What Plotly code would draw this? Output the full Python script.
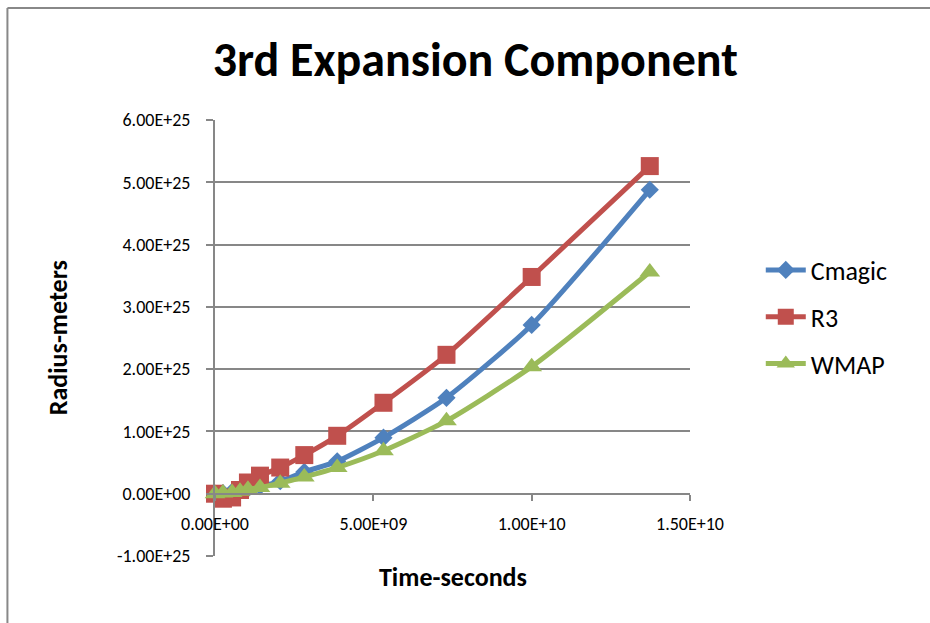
import plotly.graph_objects as go

# ---- data ----
time_s = [0.0, 0.25e9, 0.54e9, 0.79e9, 1.04e9, 1.42e9, 2.06e9, 2.82e9, 3.86e9, 5.32e9, 7.31e9, 1.0e10, 1.373e10]
cmagic = [0.0, 0.01e25, 0.03e25, 0.05e25, 0.08e25, 0.12e25, 0.2e25, 0.35e25, 0.52e25, 0.90e25, 1.54e25, 2.71e25, 4.88e25]
r3 = [0.0, -0.08e25, -0.06e25, 0.06e25, 0.18e25, 0.29e25, 0.42e25, 0.62e25, 0.93e25, 1.46e25, 2.23e25, 3.48e25, 5.26e25]
wmap = [0.0, 0.01e25, 0.02e25, 0.04e25, 0.07e25, 0.10e25, 0.17e25, 0.27e25, 0.42e25, 0.69e25, 1.17e25, 2.04e25, 3.56e25]

y_tickvals = [-1e25, 0, 1e25, 2e25, 3e25, 4e25, 5e25, 6e25]
y_ticktext = ["-1.00E+25", "0.00E+00", "1.00E+25", "2.00E+25", "3.00E+25", "4.00E+25", "5.00E+25", "6.00E+25"]
x_tickvals = [0, 5e9, 1e10, 1.5e10]
x_ticktext = ["0.00E+00", "5.00E+09", "1.00E+10", "1.50E+10"]

FONT = "Carlito, Calibri, Liberation Sans, Arial, sans-serif"
GRID = "#878787"

fig = go.Figure()
series = [
    ("Cmagic", cmagic, "#4F81BD", "diamond", 14),
    ("R3", r3, "#C0504D", "square", 18),
    ("WMAP", wmap, "#9BBB59", "triangle-up", 18),
]
for name, vals, color, sym, sz in series:
    fig.add_trace(go.Scatter(
        x=time_s, y=vals, name=name, mode="lines+markers",
        legendgroup=name,
        line=dict(color=color, width=5, shape="spline", smoothing=0.6),
        marker=dict(symbol=sym, size=sz, color=color),
        cliponaxis=False,
    ))

fig.update_layout(
    width=930, height=623,
    margin=dict(l=215, r=240, t=120, b=67),
    paper_bgcolor="white", plot_bgcolor="white",
    font=dict(family=FONT, color="#000000", size=18),
    title=dict(text="<b>3rd Expansion Component</b>", x=0.511, xref="container",
               y=0.905, yref="container", xanchor="center", yanchor="middle",
               font=dict(size=48, family=FONT, color="#000000")),
    showlegend=True,
    legend=dict(x=1.149, y=0.548, xanchor="left", yanchor="middle",
                font=dict(size=26, family=FONT), tracegroupgap=10,
                traceorder="grouped", itemwidth=40, bgcolor="rgba(0,0,0,0)"),
    xaxis=dict(range=[0, 1.5e10], tickvals=x_tickvals, ticktext=x_ticktext,
               showgrid=False, zeroline=False, showline=True, linecolor=GRID, linewidth=2,
               ticks="outside", ticklen=6, tickwidth=2, tickcolor=GRID,
               anchor="free", position=1/7, ticklabelstandoff=8,
               tickfont=dict(size=18, family=FONT)),
    yaxis=dict(range=[-1e25, 6e25], tickvals=y_tickvals, ticktext=y_ticktext,
               showgrid=True, gridcolor=GRID, gridwidth=2, zeroline=False,
               showline=True, linecolor=GRID, linewidth=2,
               ticks="outside", ticklen=7, tickwidth=2, tickcolor=GRID,
               ticklabelstandoff=12,
               tickfont=dict(size=18, family=FONT)),
    annotations=[
        dict(text="<b>Time-seconds</b>", xref="paper", yref="paper", x=0.501, y=-0.048,
             xanchor="center", yanchor="middle", showarrow=False,
             font=dict(size=26, family=FONT)),
        dict(text="<b>Radius-meters</b>", xref="paper", yref="paper", x=-0.33, y=0.5,
             xanchor="center", yanchor="middle", showarrow=False, textangle=-90,
             font=dict(size=26, family=FONT)),
    ],
    shapes=[
        dict(type="line", xref="paper", yref="paper", x0=-0.437, y0=-0.3, x1=-0.437, y1=1.2569,
             line=dict(color="#888888", width=2), layer="below"),
        dict(type="line", xref="paper", yref="paper", x0=-0.437, y0=1.2569, x1=1.6, y1=1.2569,
             line=dict(color="#888888", width=2), layer="below"),
    ],
)

fig.write_html("out.html", config={"displayModeBar": False},
               post_script="document.body.style.margin='0px';document.body.style.overflow='hidden';")
